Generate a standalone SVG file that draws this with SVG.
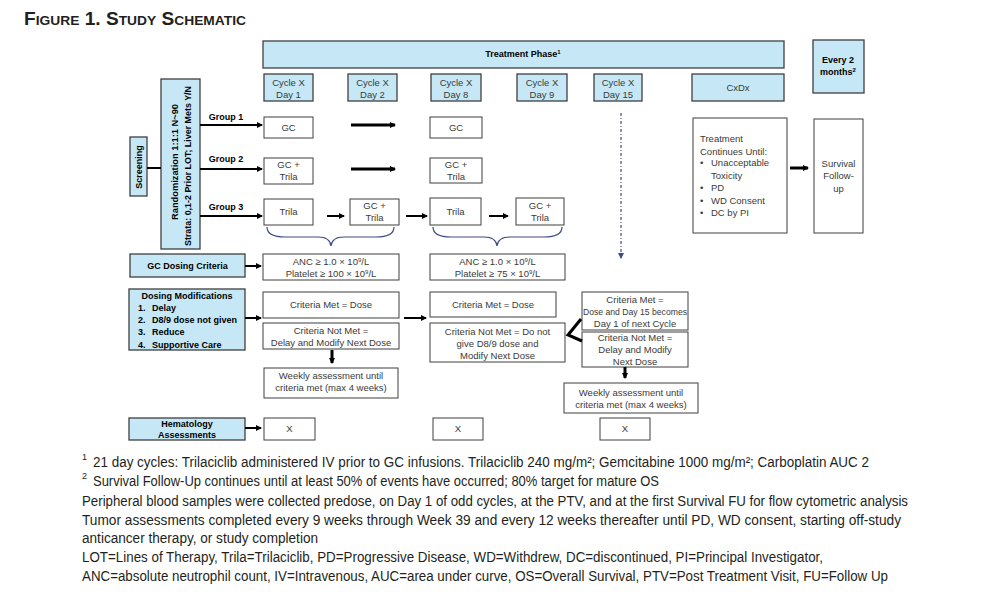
<svg xmlns="http://www.w3.org/2000/svg" width="1000" height="601" viewBox="0 0 1000 601">
<defs>
<style>
.b{fill:#c6e8f6;stroke:#3f3f3f;stroke-width:1.3}
.w{fill:#fff;stroke:#3f3f3f;stroke-width:1}
.t{font-family:"Liberation Sans",Arial,sans-serif;font-size:9.5px;fill:#3a3a3a;text-anchor:middle}
.tl{font-family:"Liberation Sans",Arial,sans-serif;font-size:9.5px;fill:#3a3a3a}
.tb{font-family:"Liberation Sans",Arial,sans-serif;font-size:9px;font-weight:bold;fill:#000;text-anchor:middle}
.tbl{font-family:"Liberation Sans",Arial,sans-serif;font-size:9px;font-weight:bold;fill:#000}
.fn{font-family:"Liberation Sans",Arial,sans-serif;font-size:14px;fill:#231f20}
.sup{font-family:"Liberation Sans",Arial,sans-serif;font-size:9px;fill:#231f20}
.c{stroke:#000;stroke-width:2;fill:none}
.c3{stroke:#000;stroke-width:3;fill:none}
.br{stroke:#3c4a8a;stroke-width:1.2;fill:none}
</style>
<marker id="ah" markerUnits="userSpaceOnUse" markerWidth="7" markerHeight="7" refX="5" refY="3" orient="auto"><path d="M0,0 L6,3 L0,6 z" fill="#000"/></marker>
<marker id="ahb" markerUnits="userSpaceOnUse" markerWidth="7" markerHeight="7" refX="3" refY="5" orient="0"><path d="M0,0 L6,0 L3,6 z" fill="#3c4a8a"/></marker>
</defs>
<rect width="1000" height="601" fill="#fff"/>

<text x="24" y="25" font-family="'Liberation Sans',Arial,sans-serif" font-size="18" font-weight="bold" font-variant="small-caps" fill="#231f20" textLength="222" lengthAdjust="spacingAndGlyphs">Figure 1. Study Schematic</text>

<g id="treatment-phase"><rect class="b" x="263" y="41" width="521" height="27"/><text class="tb" x="523" y="57">Treatment Phase<tspan font-size="6" dy="-3">1</tspan></text></g>
<g id="every2"><rect class="b" x="813" y="40" width="51" height="53"/><text class="tb" x="838" y="63">Every 2</text><text class="tb" x="838" y="75">months<tspan font-size="6" dy="-3">2</tspan></text></g>

<g id="c1"><rect class="b" x="264" y="74" width="49" height="27"/><text class="t" x="288.5" y="85.5">Cycle X</text><text class="t" x="288.5" y="97.5">Day 1</text></g>
<g id="c2"><rect class="b" x="348" y="74" width="49" height="27"/><text class="t" x="372.5" y="85.5">Cycle X</text><text class="t" x="372.5" y="97.5">Day 2</text></g>
<g id="c8"><rect class="b" x="431" y="74" width="50" height="27"/><text class="t" x="456" y="85.5">Cycle X</text><text class="t" x="456" y="97.5">Day 8</text></g>
<g id="c9"><rect class="b" x="517" y="74" width="50" height="27"/><text class="t" x="542" y="85.5">Cycle X</text><text class="t" x="542" y="97.5">Day 9</text></g>
<g id="c15"><rect class="b" x="594" y="74" width="48" height="27"/><text class="t" x="618" y="85.5">Cycle X</text><text class="t" x="618" y="97.5">Day 15</text></g>
<g id="cxdx"><rect class="b" x="692" y="74" width="92" height="27"/><text class="t" x="738" y="91">CxDx</text></g>

<g id="screening"><rect class="b" x="130" y="137" width="17" height="59"/><text class="tb" transform="translate(141.5,167) rotate(-90)" x="0" y="0">Screening</text></g>
<g id="randomization"><rect class="b" x="161" y="79" width="39" height="170"/>
<text class="tb" transform="translate(178,162) rotate(-90)" x="0" y="0" textLength="116" lengthAdjust="spacingAndGlyphs">Randomization  1:1:1 N~90</text>
<text class="tb" transform="translate(191,166) rotate(-90)" x="0" y="0" textLength="160" lengthAdjust="spacingAndGlyphs">Strata:  0,1-2 Prior LOT; Liver Mets Y/N</text></g>

<g id="labels"><text class="tb" x="226" y="120">Group 1</text><text class="tb" x="226" y="162">Group 2</text><text class="tb" x="226" y="210">Group 3</text></g>

<g id="g1d1"><rect class="w" x="264" y="117" width="49" height="21"/><text class="t" x="288.5" y="130.5">GC</text></g>
<g id="g2d1"><rect class="w" x="264" y="158" width="49" height="26"/><text class="t" x="288.5" y="168">GC +</text><text class="t" x="288.5" y="180">Trila</text></g>
<g id="g3d1"><rect class="w" x="264" y="199" width="49" height="26"/><text class="t" x="288.5" y="215">Trila</text></g>
<g id="g3d2"><rect class="w" x="350" y="199" width="49" height="26"/><text class="t" x="374.5" y="209">GC +</text><text class="t" x="374.5" y="221">Trila</text></g>
<g id="g1d8"><rect class="w" x="430" y="117" width="52" height="21"/><text class="t" x="456" y="130.5">GC</text></g>
<g id="g2d8"><rect class="w" x="430" y="158" width="52" height="25"/><text class="t" x="456" y="168">GC +</text><text class="t" x="456" y="180">Trila</text></g>
<g id="g3d8"><rect class="w" x="430" y="198" width="51" height="27"/><text class="t" x="455.5" y="215">Trila</text></g>
<g id="g3d9"><rect class="w" x="516" y="198" width="48" height="27"/><text class="t" x="540" y="209">GC +</text><text class="t" x="540" y="221">Trila</text></g>

<g id="continues"><rect class="w" x="693" y="118" width="94" height="115"/>
<text class="tl" x="700" y="142">Treatment</text><text class="tl" x="700" y="155">Continues Until:</text>
<text class="tl" x="700" y="166">•</text><text class="tl" x="711" y="166">Unacceptable</text><text class="tl" x="711" y="179">Toxicity</text>
<text class="tl" x="700" y="191">•</text><text class="tl" x="711" y="191">PD</text>
<text class="tl" x="700" y="204">•</text><text class="tl" x="711" y="204">WD Consent</text>
<text class="tl" x="700" y="216">•</text><text class="tl" x="711" y="216">DC by PI</text></g>
<g id="survival"><rect class="w" x="814" y="119" width="49" height="114"/><text class="t" x="838.5" y="167">Survival</text><text class="t" x="838.5" y="179">Follow-</text><text class="t" x="838.5" y="192">up</text></g>

<g id="gc-criteria"><rect class="b" x="130" y="254" width="115" height="23"/><text class="tb" x="187.5" y="269">GC Dosing Criteria</text></g>
<g id="anc1"><rect class="w" x="263" y="254" width="136" height="26"/><text class="t" x="331" y="265">ANC ≥ 1.0 × 10<tspan font-size="6" dy="-3">9</tspan><tspan dy="3">/L</tspan></text><text class="t" x="331" y="277">Platelet ≥ 100 × 10<tspan font-size="6" dy="-3">9</tspan><tspan dy="3">/L</tspan></text></g>
<g id="anc2"><rect class="w" x="430" y="254" width="135" height="26"/><text class="t" x="497.5" y="265">ANC ≥ 1.0 × 10<tspan font-size="6" dy="-3">9</tspan><tspan dy="3">/L</tspan></text><text class="t" x="497.5" y="277">Platelet ≥ 75 × 10<tspan font-size="6" dy="-3">9</tspan><tspan dy="3">/L</tspan></text></g>

<g id="dosing-mods"><rect class="b" x="129" y="289" width="116" height="61"/>
<text class="tb" x="187" y="298.5">Dosing Modifications</text>
<text class="tbl" x="138" y="311">1.</text><text class="tbl" x="152" y="311">Delay</text>
<text class="tbl" x="138" y="323">2.</text><text class="tbl" x="152" y="323">D8/9 dose not given</text>
<text class="tbl" x="138" y="335">3.</text><text class="tbl" x="152" y="335">Reduce</text>
<text class="tbl" x="138" y="348">4.</text><text class="tbl" x="152" y="348">Supportive Care</text></g>

<g id="met1"><rect class="w" x="263" y="292" width="136" height="26"/><text class="t" x="331" y="308">Criteria Met = Dose</text></g>
<g id="notmet1"><rect class="w" x="263" y="323" width="136" height="26"/><text class="t" x="331" y="334">Criteria Not Met =</text><text class="t" x="331" y="346">Delay and Modify Next Dose</text></g>
<g id="weekly1"><rect class="w" x="264" y="368" width="134" height="30"/><text class="t" x="331" y="379">Weekly assessment until</text><text class="t" x="331" y="391">criteria met (max 4 weeks)</text></g>

<g id="met2"><rect class="w" x="430" y="292" width="126" height="25"/><text class="t" x="493" y="308">Criteria Met = Dose</text></g>
<g id="notmet2"><rect class="w" x="430" y="323" width="135" height="39"/><text class="t" x="497.5" y="335">Criteria Not Met = Do not</text><text class="t" x="497.5" y="347">give D8/9 dose and</text><text class="t" x="497.5" y="359">Modify Next Dose</text></g>

<g id="met3"><rect class="w" x="582" y="292" width="106" height="38"/><text class="t" x="635" y="303">Criteria Met =</text><text class="t" x="635" y="315" textLength="104" lengthAdjust="spacingAndGlyphs">Dose and Day 15 becomes</text><text class="t" x="635" y="327">Day 1 of next Cycle</text></g>
<g id="notmet3"><rect class="w" x="582" y="332" width="106" height="35"/><text class="t" x="635" y="341">Criteria Not Met =</text><text class="t" x="635" y="353">Delay and Modify</text><text class="t" x="635" y="365">Next Dose</text></g>
<g id="weekly3"><rect class="w" x="564" y="383" width="134" height="30"/><text class="t" x="631" y="396">Weekly assessment until</text><text class="t" x="631" y="408">criteria met (max 4 weeks)</text></g>

<g id="hematology"><rect class="b" x="129" y="418" width="116" height="22"/><text class="tb" x="187" y="426.5">Hematology</text><text class="tb" x="187" y="437.5">Assessments</text></g>
<g id="x1"><rect class="w" x="264" y="418" width="51" height="22"/><text class="t" x="289.5" y="432">X</text></g>
<g id="x2"><rect class="w" x="433" y="418" width="50" height="22"/><text class="t" x="458" y="432">X</text></g>
<g id="x3"><rect class="w" x="600" y="418" width="50" height="22"/><text class="t" x="625" y="432">X</text></g>

<g id="connectors">
<line class="c" x1="147" y1="168" x2="161" y2="168"/>
<line class="c" x1="200" y1="125" x2="262" y2="125" marker-end="url(#ah)"/>
<line class="c" x1="200" y1="169" x2="262" y2="169" marker-end="url(#ah)"/>
<line class="c" x1="200" y1="216" x2="262" y2="216" marker-end="url(#ah)"/>
<line class="c3" x1="351" y1="125" x2="395" y2="125" marker-end="url(#ah)"/>
<line class="c3" x1="351" y1="169" x2="395" y2="169" marker-end="url(#ah)"/>
<line class="c" x1="327" y1="216" x2="344" y2="216" marker-end="url(#ah)"/>
<line class="c" x1="406" y1="216" x2="427" y2="216" marker-end="url(#ah)"/>
<line class="c" x1="489" y1="216" x2="508" y2="216" marker-end="url(#ah)"/>
<line class="c" x1="245" y1="266" x2="261" y2="266" marker-end="url(#ah)"/>
<line class="c" x1="245" y1="318" x2="261" y2="318" marker-end="url(#ah)"/>
<line class="c" x1="404" y1="318" x2="426" y2="318" marker-end="url(#ah)"/>
<line class="c" x1="245" y1="428" x2="261" y2="428" marker-end="url(#ah)"/>
<line class="c3" x1="332" y1="350" x2="332" y2="363" marker-end="url(#ah)"/>
<line class="c3" x1="625" y1="367" x2="625" y2="378" marker-end="url(#ah)"/>
<line class="c3" x1="790" y1="168" x2="808" y2="168" marker-end="url(#ah)"/>
<polyline class="c3" points="581,319 568,335 582,341"/>
<line x1="621" y1="113" x2="621" y2="258" stroke="#3c4a8a" stroke-width="1.2" stroke-dasharray="3,2,1,2" marker-end="url(#ahb)"/>
<path class="br" d="M267,227 Q267,237 285,237 L318,237 Q330,237 331,246 Q332,237 344,237 L376,237 Q394,237 394,227"/>
<path class="br" d="M433,227 Q433,237 451,237 L484,237 Q496,237 497,246 Q498,237 510,237 L544,237 Q562,237 562,227"/>
</g>

<g id="footnotes">
<text class="sup" x="82" y="460">1</text>
<text class="fn" x="93" y="467" textLength="776" lengthAdjust="spacingAndGlyphs">21 day cycles:  Trilaciclib administered IV prior to GC infusions.  Trilaciclib 240 mg/m²; Gemcitabine 1000 mg/m²; Carboplatin AUC 2</text>
<text class="sup" x="82" y="479">2</text>
<text class="fn" x="93" y="486" textLength="566" lengthAdjust="spacingAndGlyphs">Survival Follow-Up continues until at least 50% of events have occurred; 80% target for mature OS</text>
<text class="fn" x="82" y="506" textLength="826" lengthAdjust="spacingAndGlyphs">Peripheral blood samples were collected predose, on Day 1 of odd cycles, at the PTV, and at the first Survival FU for flow cytometric analysis</text>
<text class="fn" x="82" y="525" textLength="819" lengthAdjust="spacingAndGlyphs">Tumor assessments completed every 9 weeks through Week 39 and every 12 weeks thereafter until PD, WD consent, starting off-study</text>
<text class="fn" x="82" y="543" textLength="236" lengthAdjust="spacingAndGlyphs">anticancer therapy, or study completion</text>
<text class="fn" x="82" y="562" textLength="741" lengthAdjust="spacingAndGlyphs">LOT=Lines of Therapy, Trila=Trilaciclib, PD=Progressive Disease, WD=Withdrew, DC=discontinued, PI=Principal Investigator,</text>
<text class="fn" x="82" y="581" textLength="806" lengthAdjust="spacingAndGlyphs">ANC=absolute neutrophil count, IV=Intravenous, AUC=area under curve, OS=Overall Survival, PTV=Post Treatment Visit, FU=Follow Up</text>
</g>
</svg>
